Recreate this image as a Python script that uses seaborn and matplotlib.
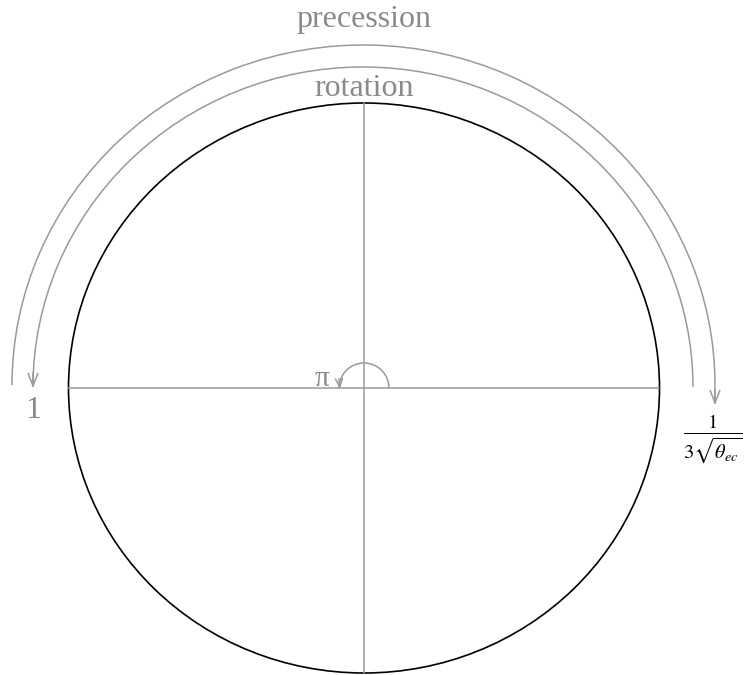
import numpy as np
import matplotlib.pyplot as plt
import seaborn as sns
from matplotlib.patches import Ellipse, Arc

# geometry of the diagram, in pixels of the 745x675 picture (y grows downward)
center = [364, 388]
circle_w = 591
circle_h = 570
h_axis_x = [68, 659]
v_axis_y = [103, 673]

# outer and inner arrows: name, centre x, centre y, width, height, start angle, end angle
arc_names = ['precession', 'rotation']
arc_cx = [363.5, 363]
arc_cy = [385, 387]
arc_w = [703, 660]
arc_h = [680, 640]
arc_start = [180, 180]
arc_end = [363, 360]
arc_tips = [(715, 405), (33, 388)]
arc_label_y = [20, 88]

# small pi-arc at the centre
pi_r = 25
pi_tip = (340, 389)

gray = '#8a8a8a'
line_gray = '#9a9a9a'

sns.set_style('white')
plt.rcParams['font.family'] = ['Liberation Serif', 'DejaVu Serif']
plt.rcParams['mathtext.fontset'] = 'stix'

fig = plt.figure(figsize=(7.45, 6.75), dpi=100)
ax = fig.add_axes([0, 0, 1, 1])
ax.set_xlim(0, 745)
ax.set_ylim(675, 0)
ax.axis('off')

# cross lines
sns.lineplot(x=h_axis_x, y=[center[1]] * 2, color=line_gray, lw=1.1, ax=ax,
             estimator=None, sort=False)
sns.lineplot(x=[center[0]] * 2, y=v_axis_y, color=line_gray, lw=1.1, ax=ax,
             estimator=None, sort=False)

# main circle
ax.add_patch(Ellipse(center, circle_w, circle_h, fill=False, ec='black', lw=1.2))

# big arcs with arrow heads
arrow_kw = dict(arrowstyle='->,head_length=0.9,head_width=0.35', color=line_gray, lw=1.1,
                shrinkA=0, shrinkB=0)
for i, name in enumerate(arc_names):
    ax.add_patch(Arc((arc_cx[i], arc_cy[i]), arc_w[i], arc_h[i],
                     theta1=arc_start[i], theta2=arc_end[i], color=line_gray, lw=1.1))
    tx, ty = arc_tips[i]
    ax.annotate('', xy=(tx, ty), xytext=(tx, ty - 15), arrowprops=arrow_kw)
    ax.text(364, arc_label_y[i], name, ha='center', va='center', fontsize=23, color=gray)

# pi arc
ax.add_patch(Arc(center, 2 * pi_r, 2 * pi_r, theta1=180, theta2=360, color=line_gray, lw=1.1))
ax.annotate('', xy=pi_tip, xytext=(pi_tip[0] - 1, pi_tip[1] - 10),
            arrowprops=dict(arrowstyle='->,head_length=0.6,head_width=0.25', color=line_gray,
                            lw=1.1, shrinkA=0, shrinkB=0))

ax.text(322, 379, '\u03c0', ha='center', va='center', fontsize=21, color=gray)
ax.text(33, 410, '1', ha='center', va='center', fontsize=23, color=gray)
ax.text(713, 439, r'$\frac{1}{3\sqrt{\theta_{ec}}}$', ha='center', va='center',
        fontsize=21, color='black')

fig.savefig('out.png', dpi=100, facecolor='white')
